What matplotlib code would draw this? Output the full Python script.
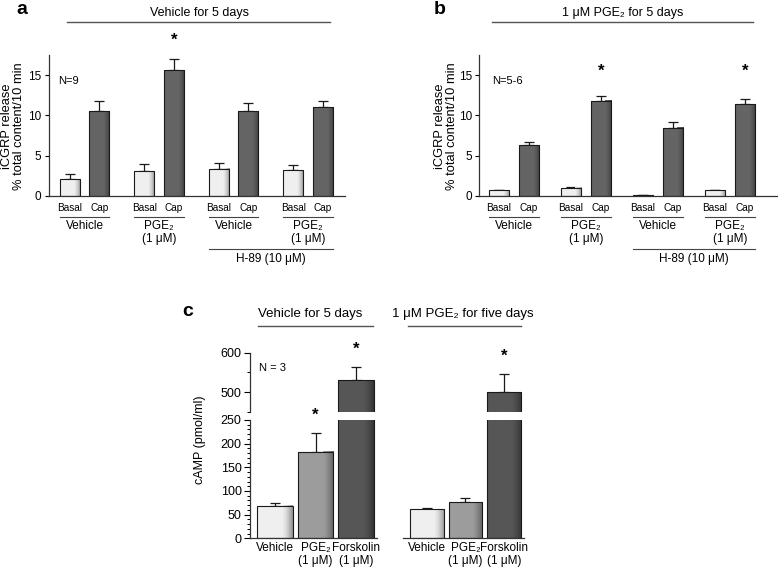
import numpy as np
import matplotlib
matplotlib.use('Agg')
import matplotlib.pyplot as plt
from matplotlib.transforms import blended_transform_factory
from matplotlib.colors import LinearSegmentedColormap, to_rgb
from matplotlib.ticker import MultipleLocator

plt.rcParams['font.family'] = ['Liberation Sans', 'DejaVu Sans']

W, H = 778, 569

# panels a / b : iCGRP release (% total content / 10 min)
bar_labels = ['Basal', 'Cap']
pair_labels = ['Vehicle', 'PGE₂\n(1 μM)', 'Vehicle', 'PGE₂\n(1 μM)']
a_basal = [2.1, 3.1, 3.4, 3.2]
a_basal_err = [0.6, 0.9, 0.7, 0.7]
a_cap = [10.5, 15.6, 10.5, 11.0]
a_cap_err = [1.3, 1.4, 1.0, 0.8]
a_star = [False, True, False, False]
b_basal = [0.7, 1.0, 0.1, 0.7]
b_basal_err = [0.1, 0.1, 0.05, 0.1]
b_cap = [6.3, 11.8, 8.5, 11.4]
b_cap_err = [0.4, 0.6, 0.7, 0.6]
b_star = [False, True, False, True]

# panel c : cAMP (pmol/ml)
c_labels = ['Vehicle', 'PGE₂\n(1 μM)', 'Forskolin\n(1 μM)']
c_veh = [68, 182, 530]
c_veh_err = [7, 40, 34]
c_veh_star = [False, True, True]
c_pge = [61, 76, 500]
c_pge_err = [3, 10, 46]
c_pge_star = [False, False, True]

light = '#efefef'
mid = '#9c9c9c'
dark = '#646464'
darker = '#565656'
line_col = '#333333'

fig = plt.figure(figsize=(W / 100, H / 100), dpi=100)


def add_ax(l, r, t, b):
    return fig.add_axes([l / W, 1 - b / H, (r - l) / W, (b - t) / H])


def fy(y):
    return 1 - y / H


def fx(x):
    return x / W


def shaded_bar(ax, x, h, w, color):
    ax.bar(x, h, w, color=color, edgecolor='none', zorder=2)
    base = np.array(to_rgb(color))
    cmap = LinearSegmentedColormap.from_list('s', [base, base * 0.6])
    grad = np.linspace(0, 1, 60).reshape(1, -1) ** 1.5
    ax.imshow(grad, cmap=cmap, aspect='auto', interpolation='bilinear',
              extent=[x + w * 0.2, x + w / 2, 0, h], zorder=2.5)
    ax.bar(x, h, w, fill=False, edgecolor='#1a1a1a', linewidth=0.8, zorder=3)


def err_up(ax, x, h, e):
    ax.errorbar(x, h, yerr=[[0], [e]], fmt='none', ecolor='#1a1a1a',
                elinewidth=0.9, capsize=3.5, capthick=0.9, zorder=1.5)


def release_panel(ax, basal, basal_err, cap, cap_err, stars, star_y, gap, xlim):
    w = 0.68
    centers = np.arange(len(basal)) * gap
    xs, labels = [], []
    for i, c in enumerate(centers):
        shaded_bar(ax, c - 0.5, basal[i], w, light)
        shaded_bar(ax, c + 0.5, cap[i], w, dark)
        err_up(ax, c - 0.5, basal[i], basal_err[i])
        err_up(ax, c + 0.5, cap[i], cap_err[i])
        if stars[i]:
            ax.text(c + 0.5, star_y, '*', ha='center', va='center', fontsize=12,
                    fontweight='bold', clip_on=False)
        xs += [c - 0.5, c + 0.5]
        labels += bar_labels
    ax.set_xlim(*xlim)
    ax.set_ylim(0, 17.5)
    ax.set_xticks(xs)
    ax.set_xticklabels(labels, fontsize=7.2)
    ax.tick_params(axis='x', length=0, pad=5)
    ax.set_yticks([0, 5, 10, 15])
    ax.tick_params(axis='y', direction='out', length=3, width=0.8, labelsize=8.5, pad=2)
    for s in ['top', 'right']:
        ax.spines[s].set_visible(False)
    for s in ['left', 'bottom']:
        ax.spines[s].set_color(line_col)
        ax.spines[s].set_linewidth(0.9)

    tr = blended_transform_factory(ax.transData, fig.transFigure)
    for i, c in enumerate(centers):
        ax.plot([c - 0.5 - w / 2, c + 0.5 + w / 2], [fy(216.5)] * 2, color='#444444',
                lw=0.8, transform=tr, clip_on=False)
        ax.text(c, fy(220), pair_labels[i], ha='center', va='top', fontsize=8.5,
                linespacing=1.15, transform=tr)
    ax.plot([centers[2] - 0.5 - w / 2, centers[3] + 0.5 + w / 2], [fy(248.5)] * 2,
            color='#444444', lw=0.8, transform=tr, clip_on=False)
    ax.text((centers[2] + centers[3]) / 2, fy(259), 'H-89 (10 μM)', ha='center',
            va='center', fontsize=8.5, transform=tr)


# ---- panel a
ax_a = add_ax(48.5, 345, 55, 196)
release_panel(ax_a, a_basal, a_basal_err, a_cap, a_cap_err, a_star, 19.3, 2.53, (-1.23, 8.84))
ax_a.text(0.033, 0.815, 'N=9', transform=ax_a.transAxes, fontsize=8, va='center')
fig.text(fx(13), fy(126), 'iCGRP release\n% total content/10 min', rotation=90,
         ha='center', va='center', fontsize=9.3, linespacing=1.1)
fig.text(fx(22), fy(10), 'a', fontsize=14, fontweight='bold', ha='center', va='center')
fig.text(fx(200), fy(13), 'Vehicle for 5 days', fontsize=9, ha='center', va='center')
fig.add_artist(plt.Line2D([fx(67), fx(330)], [fy(21.7)] * 2, color='#555555', lw=1))

# ---- panel b
ax_b = add_ax(479, 777, 55, 196)
release_panel(ax_b, b_basal, b_basal_err, b_cap, b_cap_err, b_star, 15.5, 2.4, (-1.17, 8.77))
ax_b.text(0.045, 0.815, 'N=5-6', transform=ax_b.transAxes, fontsize=8, va='center')
fig.text(fx(446), fy(126), 'iCGRP release\n% total content/10 min', rotation=90,
         ha='center', va='center', fontsize=9.3, linespacing=1.1)
fig.text(fx(440), fy(10), 'b', fontsize=14, fontweight='bold', ha='center', va='center')
fig.text(fx(623), fy(13), '1 μM PGE₂ for 5 days', fontsize=9, ha='center', va='center')
fig.add_artist(plt.Line2D([fx(492), fx(753)], [fy(21.7)] * 2, color='#555555', lw=1))


# ---- panel c (broken y axis)
def camp_group(ax_lo, ax_hi, vals, errs, stars, show_y):
    w = 0.87
    cols = [light, mid, darker]
    x = np.arange(len(vals))
    for ax in (ax_lo, ax_hi):
        for i in x:
            shaded_bar(ax, i, vals[i], w, cols[i])
            err_up(ax, i, vals[i], errs[i])
        ax.set_xlim(-0.62, 2.52)
        ax.set_facecolor('none')
        for s in ['top', 'right']:
            ax.spines[s].set_visible(False)
    ax_lo.set_ylim(0, 250)
    ax_hi.set_ylim(450, 600)
    for i in x:
        if stars[i]:
            top = vals[i] + errs[i]
            ax = ax_hi if top > 250 else ax_lo
            ax.annotate('*', (i, top), xytext=(0, 13),
                        textcoords='offset points', ha='center', va='center',
                        fontsize=12, fontweight='bold', annotation_clip=False)
    ax_hi.spines['bottom'].set_visible(False)
    ax_hi.set_xticks([])
    ax_lo.set_xticks(x)
    ax_lo.set_xticklabels(c_labels, fontsize=8.5, linespacing=1.1)
    ax_lo.tick_params(axis='x', length=0, pad=3)
    ax_lo.spines['bottom'].set_color(line_col)
    ax_lo.spines['bottom'].set_linewidth(0.9)
    if show_y:
        ax_lo.set_yticks([0, 50, 100, 150, 200, 250])
        ax_lo.yaxis.set_minor_locator(MultipleLocator(10))
        ax_hi.set_yticks([500, 600])
        ax_hi.yaxis.set_minor_locator(MultipleLocator(50))
        for ax in (ax_lo, ax_hi):
            ax.tick_params(axis='y', which='major', direction='out', length=4,
                           width=0.8, labelsize=9, pad=2)
            ax.tick_params(axis='y', which='minor', direction='out', length=2.5, width=0.7)
            ax.spines['left'].set_color(line_col)
            ax.spines['left'].set_linewidth(0.9)
    else:
        for ax in (ax_lo, ax_hi):
            ax.spines['left'].set_visible(False)
            ax.set_yticks([])


c_lo_l = add_ax(250, 377, 420, 538.3)
c_hi_l = add_ax(250, 377, 352.7, 412)
c_lo_r = add_ax(403, 524, 420, 538.3)
c_hi_r = add_ax(403, 524, 352.7, 412)
camp_group(c_lo_l, c_hi_l, c_veh, c_veh_err, c_veh_star, True)
camp_group(c_lo_r, c_hi_r, c_pge, c_pge_err, c_pge_star, False)

c_hi_l.text(0.07, 0.75, 'N = 3', transform=c_hi_l.transAxes, fontsize=8, va='center')
fig.text(fx(200), fy(440), 'cAMP (pmol/ml)', rotation=90, ha='center', va='center',
         fontsize=9)
fig.text(fx(188), fy(311), 'c', fontsize=14, fontweight='bold', ha='center', va='center')
fig.text(fx(310), fy(314), 'Vehicle for 5 days', fontsize=9.5, ha='center', va='center')
fig.add_artist(plt.Line2D([fx(258), fx(373)], [fy(326)] * 2, color='#555555', lw=1))
fig.text(fx(463), fy(314), '1 μM PGE₂ for five days', fontsize=9.5, ha='center', va='center')
fig.add_artist(plt.Line2D([fx(408), fx(521)], [fy(326)] * 2, color='#555555', lw=1))

fig.savefig('out.png', dpi=100)
